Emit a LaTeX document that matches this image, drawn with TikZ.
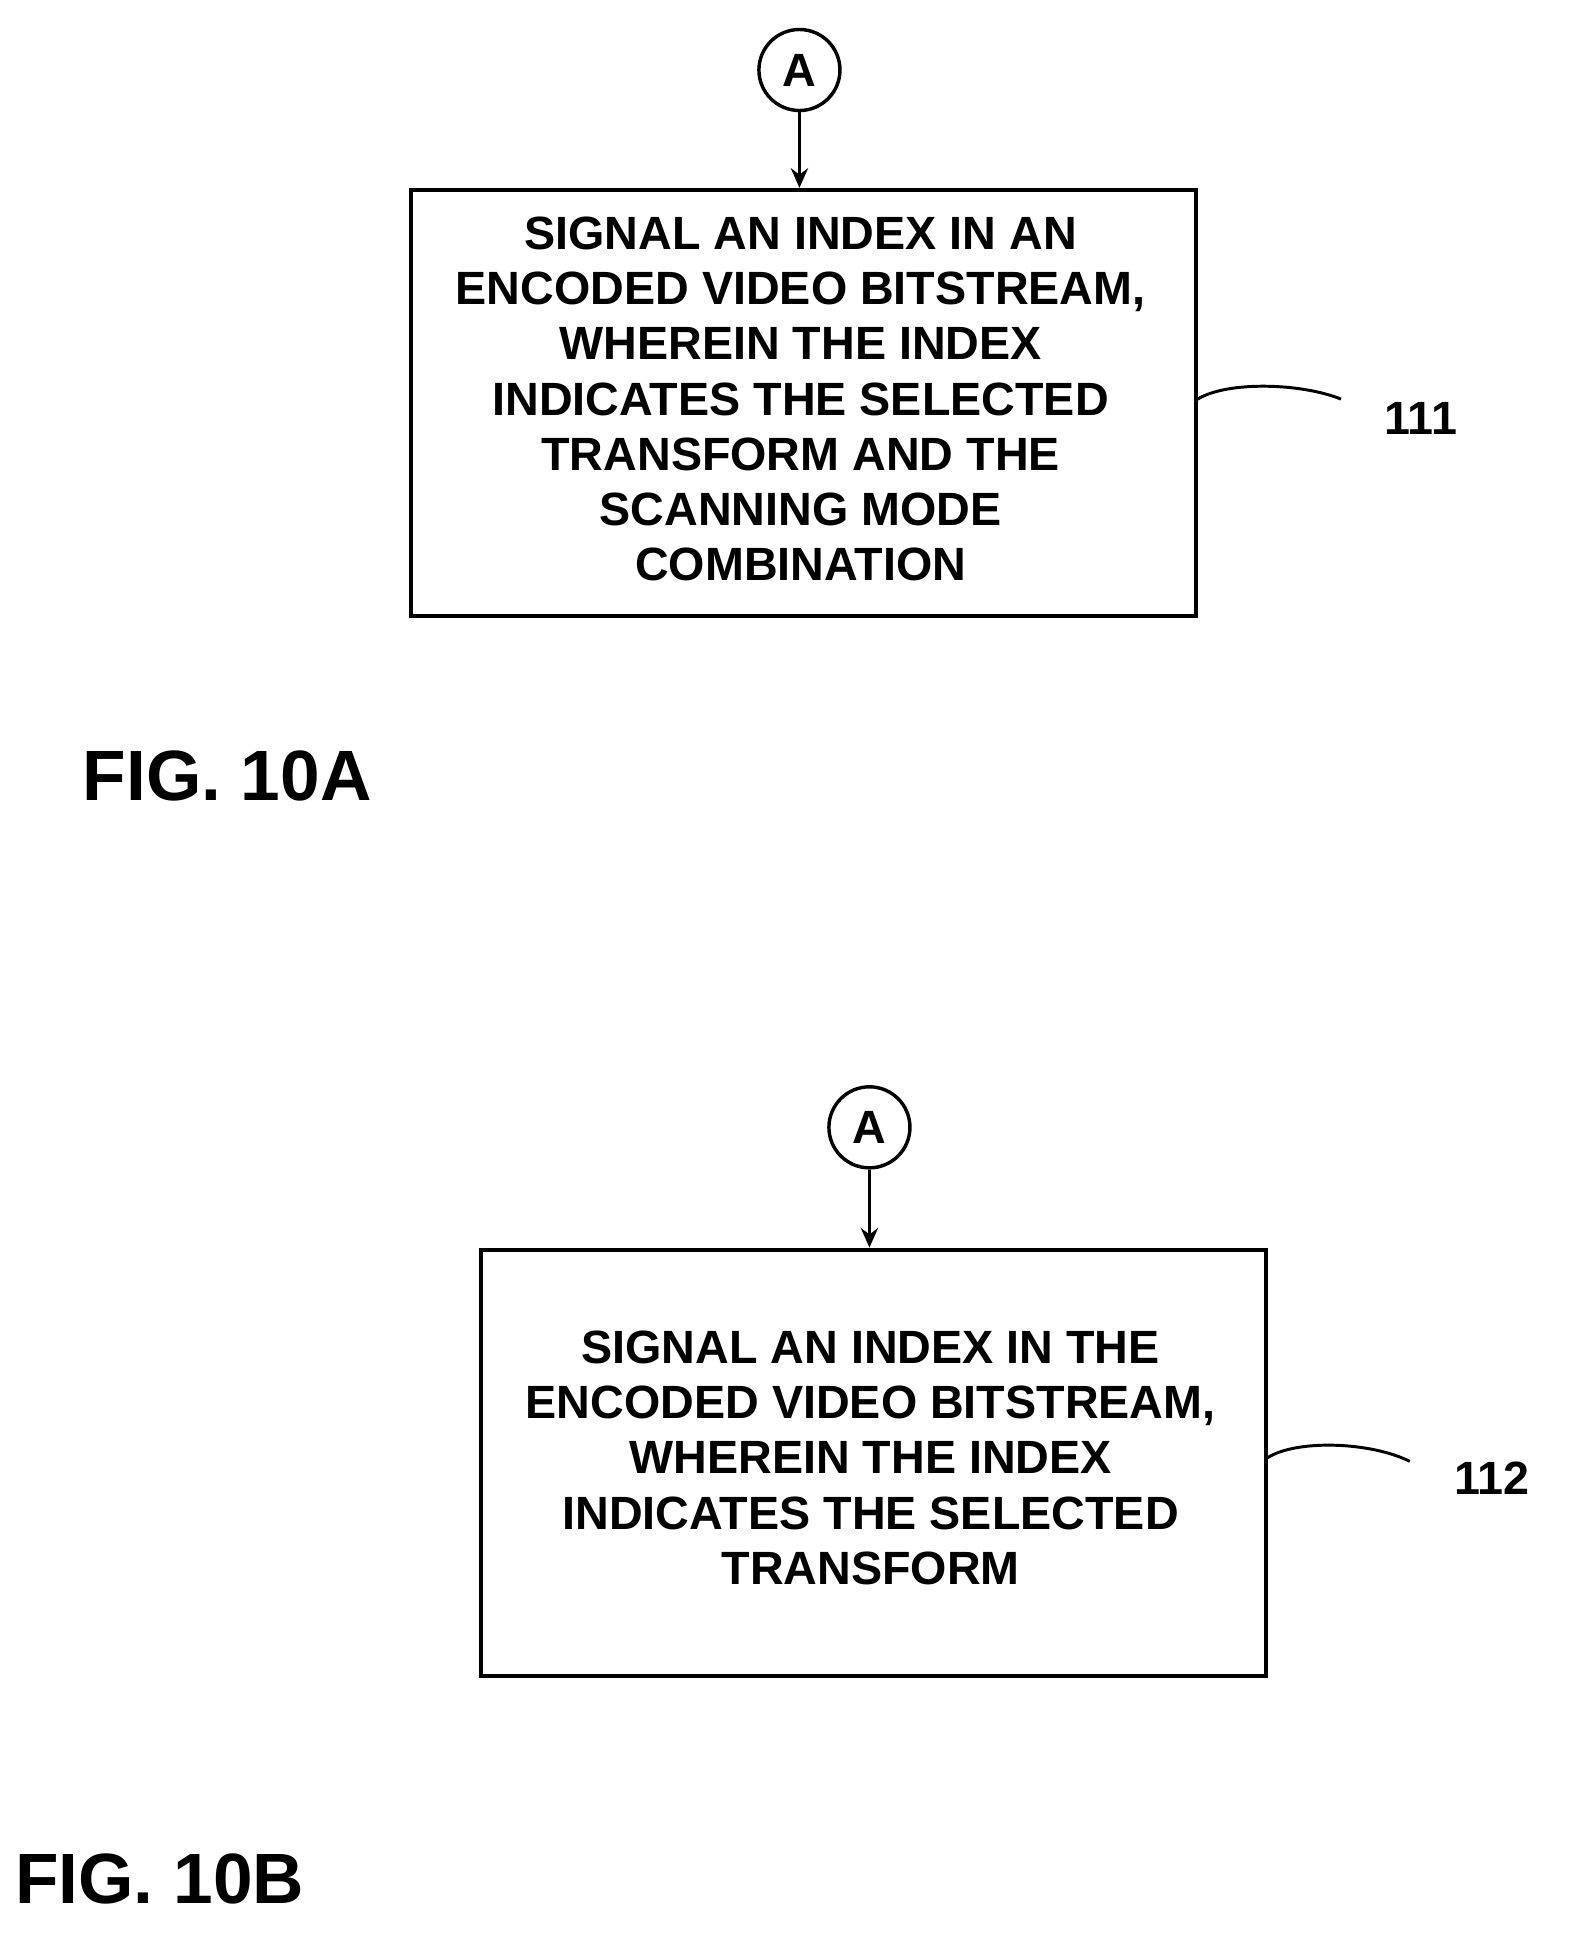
\documentclass[tikz,border=0pt]{standalone}
\usepackage{fontspec}
\setmainfont{Liberation Sans}
\usetikzlibrary{arrows.meta}
\begin{document}
\begin{tikzpicture}[x=0.5pt,y=-0.5pt,
  box/.style={draw,line width=1.6pt,minimum width=319.5pt,minimum height=173.5pt,anchor=north west,inner sep=0pt},
  txt/.style={align=center,font=\fontsize{19}{22.5}\selectfont\bfseries},
  circ/.style={draw,circle,line width=1.4pt,minimum size=33pt,inner sep=0pt,font=\fontsize{19}{20}\selectfont\bfseries},
  arr/.style={-{Stealth[length=8pt,width=7pt]},line width=1.4pt},
  lead/.style={line width=1.2pt},
  lab/.style={font=\fontsize{19}{20}\selectfont\bfseries},
  fig/.style={font=\fontsize{29}{30}\selectfont\bfseries}]
\useasboundingbox (0,0) rectangle (1280,1592);
\node[circ] (a1) at (651,57) {A};
\node[box] (b1) at (333,153) {};
\node[txt] (t1) at (652,325) {SIGNAL AN INDEX IN AN\\ENCODED VIDEO BITSTREAM,\\WHEREIN THE INDEX\\INDICATES THE SELECTED\\TRANSFORM AND THE\\SCANNING MODE\\COMBINATION};
\draw[arr] (a1) -- (b1.north -| a1);
\coordinate (l1) at (1092,325);
\draw[lead] (b1.east |- 0,325) .. controls (1000,310) and (1060,312) .. (l1);
\node[lab] (n1) at (1157,341) {111};
\node[fig] (f1) at (185,632) {FIG. 10A};
\node[circ] (a2) at (708,918) {A};
\node[box] (b2) at (390,1016) {};
\node[txt] (t2) at (709,1187) {SIGNAL AN INDEX IN THE\\ENCODED VIDEO BITSTREAM,\\WHEREIN THE INDEX\\INDICATES THE SELECTED\\TRANSFORM};
\draw[arr] (a2) -- (b2.north -| a2);
\coordinate (l2) at (1148,1190);
\draw[lead] (b2.east |- 0,1187) .. controls (1056,1172) and (1116,1174) .. (l2);
\node[lab] (n2) at (1215,1204) {112};
\node[fig] (f2) at (130,1530) {FIG. 10B};
\end{tikzpicture}
\end{document}
